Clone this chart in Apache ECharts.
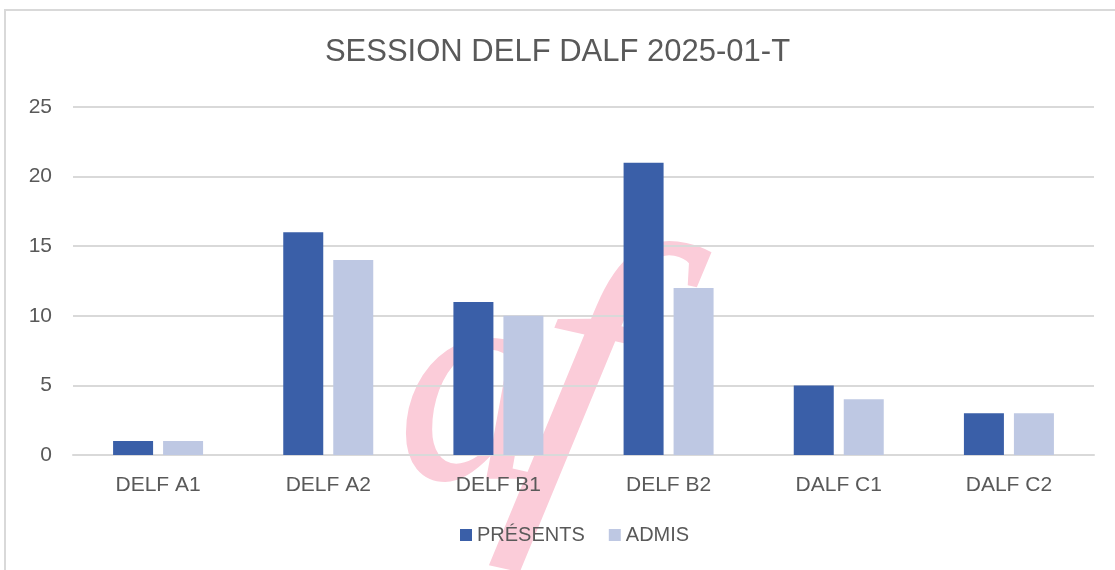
<!DOCTYPE html>
<html>
<head>
<meta charset="utf-8">
<script src="https://cdn.jsdelivr.net/npm/echarts@6/dist/echarts.min.js"></script>
<style>
html,body{margin:0;padding:0;background:#fff;}
#frame{position:absolute;left:4px;top:9px;width:1111px;height:561px;border-top:2px solid #d9d9d9;border-left:2px solid #d9d9d9;box-sizing:border-box;}
#chart{width:1115px;height:570px;}
</style>
</head>
<body>
<div id="frame"></div>
<div id="chart"></div>
<script>
// niveaux
var categories = ["DELF A1", "DELF A2", "DELF B1", "DELF B2", "DALF C1", "DALF C2"];
var presents = [1, 16, 11, 21, 5, 3];
var admis = [1, 14, 10, 12, 4, 3];
var yTicks = [0, 5, 10, 15, 20, 25];

var fontName = "Liberation Sans";
var logoColor = "#fbccd9";
var myChart = echarts.init(document.getElementById("chart"));
var option = {
    title: {
        text: "SESSION DELF DALF 2025-01-T",
        left: "center",
        top: 32,
        textStyle: { color: "#595959", fontSize: 31, fontWeight: "normal", fontFamily: fontName }
    },
    //logo en filigrane
    graphic: [{
        type: "text",
        x: 472,
        y: 400,
        z: 0,
        silent: true,
        style: {
            text: "a",
            fill: logoColor,
            align: "center",
            verticalAlign: "middle",
            font: "italic 300px 'Liberation Serif'"
        }
    }, {
        type: "text",
        x: 578,
        y: 395,
        rotation: -0.22,
        z: 0,
        silent: true,
        style: {
            text: "f",
            fill: logoColor,
            align: "center",
            verticalAlign: "middle",
            font: "italic 390px 'Liberation Serif'"
        }
    }],
    legend: {
        data: ["PRÉSENTS", "ADMIS"],
        bottom: 20,
        left: 455,
        itemWidth: 12,
        itemHeight: 12,
        itemGap: 24,
        icon: "rect",
        textStyle: { color: "#595959", fontSize: 20, fontFamily: fontName }
    },
    grid: { left: 73, right: 21, top: 107, bottom: 115 },
    xAxis: {
        type: "category",
        data: categories,
        axisTick: { show: false },
        axisLine: { lineStyle: { color: "#d9d9d9", width: 2 } },
        axisLabel: { color: "#595959", fontSize: 21, fontFamily: fontName, margin: 20 }
    },
    yAxis: {
        type: "value",
        min: yTicks[0],
        max: yTicks[yTicks.length - 1],
        interval: 5,
        axisLine: { show: false },
        axisTick: { show: false },
        splitLine: { lineStyle: { color: "#d9d9d9", width: 2 } },
        axisLabel: { color: "#595959", fontSize: 21, fontFamily: fontName, margin: 21 }
    },
    series: [{
        name: "PRÉSENTS",
        type: "bar",
        data: presents,
        z: 3,
        barWidth: 40,
        barGap: "25%",
        itemStyle: { color: "#3a5fa8" }
    }, {
        name: "ADMIS",
        type: "bar",
        data: admis,
        z: 3,
        barWidth: 40,
        itemStyle: { color: "#bec8e3" }
    }]
};
myChart.setOption(option);
</script>
</body>
</html>
